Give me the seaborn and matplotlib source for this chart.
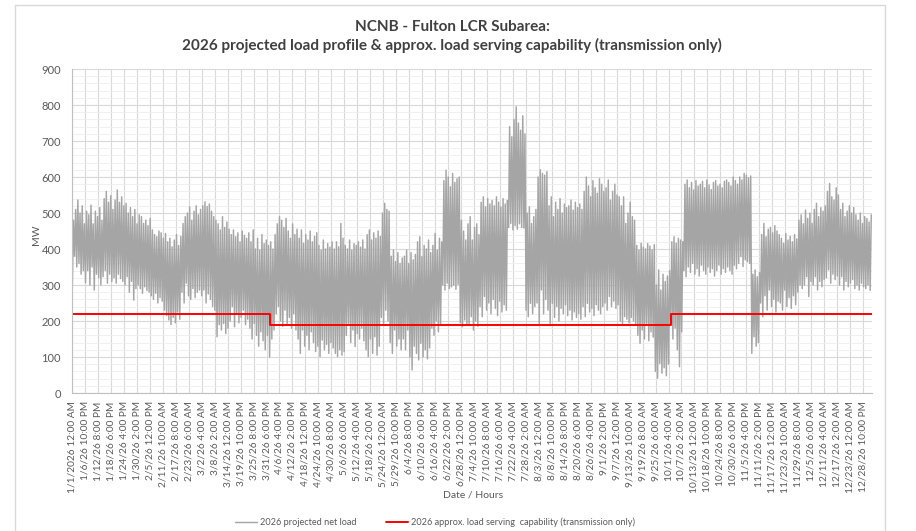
import numpy as np
import pandas as pd
import matplotlib
matplotlib.use('Agg')
import matplotlib.pyplot as plt
import matplotlib.patches as patches
from matplotlib.ticker import MultipleLocator
import seaborn as sns

# === daily trough / peak of the projected net load (MW), month by month ===
low_jan = [300, 380, 350, 360, 330, 340, 306, 340, 300, 350, 286, 330, 320, 300, 323, 340, 305, 330, 310, 320,
           305, 330, 318, 310, 300, 323, 280, 310, 258, 290, 300]
high_jan = [480, 510, 536, 500, 520, 470, 505, 495, 522, 470, 505, 490, 515, 480, 540, 560, 530, 548, 510, 536,
            564, 530, 545, 520, 527, 500, 515, 490, 510, 470, 495]
low_feb = [290, 277, 295, 285, 280, 270, 260, 277, 250, 265, 255, 230, 215, 203, 190, 210, 195, 225, 205,
           280, 250, 305, 270, 260, 290, 265, 280, 286]
high_feb = [490, 471, 480, 465, 485, 453, 440, 434, 450, 445, 430, 443, 420, 430, 406, 425, 440, 410, 435,
            471, 490, 500, 517, 480, 505, 520, 495, 510]
low_mar = [270, 286, 250, 275, 260, 240, 230, 156, 190, 175, 193, 165, 180, 200, 240, 184, 220, 195, 210, 230,
           190, 205, 180, 150, 193, 160, 130, 170, 145, 120, 160]
high_mar = [520, 531, 518, 525, 505, 490, 480, 470, 453, 490, 460, 475, 455, 440, 453, 434, 445, 420, 450, 438,
            430, 445, 420, 453, 400, 430, 397, 440, 415, 425, 410]
low_apr = [100, 150, 175, 220, 240, 200, 185, 230, 190, 210, 180, 220, 175, 150, 110, 175, 130, 160, 120, 170,
           140, 115, 130, 101, 147, 120, 135, 110, 140, 125]
high_apr = [420, 400, 440, 470, 490, 480, 460, 485, 450, 430, 470, 440, 455, 430, 453, 416, 440, 425, 450, 420,
            435, 445, 410, 397, 425, 400, 415, 405, 420, 400]
low_may = [110, 101, 120, 105, 115, 160, 193, 140, 175, 129, 165, 150, 180, 145, 120, 101, 150, 110, 156, 105,
           130, 210, 193, 230, 200, 140, 110, 175, 130, 150, 120]
high_may = [420, 406, 471, 430, 410, 400, 425, 397, 415, 410, 420, 405, 425, 400, 440, 453, 425, 445, 430, 450,
            435, 500, 527, 510, 505, 380, 397, 365, 390, 360, 375]
low_jun = [150, 120, 175, 100, 64, 130, 110, 92, 138, 100, 120, 95, 125, 180, 160, 200, 170, 190,
           300, 286, 305, 290, 295, 300, 288, 302, 195, 184, 203, 190]
high_jun = [380, 397, 360, 390, 370, 385, 420, 434, 379, 410, 400, 425, 390, 410, 443, 397, 430, 420,
            590, 619, 600, 573, 610, 585, 595, 600, 480, 450, 425, 470]
low_jul = [190, 212, 175, 200, 185, 240, 212, 268, 230, 250, 220, 260, 235, 215, 255, 225, 245, 230,
           460, 471, 453, 465, 455, 470, 460, 458, 230, 212, 249, 220, 240]
high_jul = [490, 425, 460, 470, 440, 530, 545, 517, 540, 525, 535, 520, 545, 530, 517, 540, 525, 535,
            740, 712, 760, 795, 750, 730, 770, 720, 500, 517, 471, 490, 510]
low_aug = [250, 193, 286, 220, 260, 230, 193, 249, 210, 240, 200, 235, 220, 245, 215, 230, 203, 225, 210, 220,
           205, 240, 212, 249, 225, 235, 215, 245, 230, 220, 240]
high_aug = [600, 620, 610, 605, 615, 520, 545, 490, 530, 510, 540, 500, 525, 515, 520, 536, 508, 530, 515, 525,
            510, 560, 600, 575, 545, 590, 570, 555, 595, 580, 560]
low_sep = [250, 230, 268, 240, 255, 235, 245, 200, 193, 212, 205, 195, 210, 200, 190, 160, 138, 175, 150, 193,
           145, 170, 155, 60, 41, 82, 55, 70, 48, 80]
high_sep = [570, 592, 536, 560, 580, 550, 545, 520, 545, 471, 500, 530, 490, 480, 410, 397, 416, 405, 400, 415,
            408, 398, 412, 300, 342, 286, 330, 310, 325, 340]
low_oct = [193, 150, 180, 120, 73, 170, 340, 323, 350, 335, 360, 330, 345, 325, 355, 340, 330, 350, 335, 345,
           325, 340, 355, 330, 345, 335, 350, 340, 330, 355, 345]
high_oct = [420, 434, 416, 430, 425, 420, 580, 592, 570, 585, 564, 590, 575, 580, 588, 570, 592, 578, 565, 585,
            590, 575, 580, 570, 588, 592, 585, 575, 600, 590, 580]
low_nov = [360, 379, 351, 370, 365, 360, 110, 156, 130, 140, 250, 212, 270, 230, 286, 240, 260, 225, 255,
           250, 230, 286, 240, 265, 235, 270, 245, 280, 300, 290]
high_nov = [600, 592, 610, 605, 598, 603, 330, 342, 323, 335, 440, 471, 434, 455, 460, 445, 465, 450, 440,
            430, 416, 443, 425, 435, 420, 440, 428, 480, 495, 470]
low_dec = [300, 323, 268, 310, 300, 323, 286, 310, 295, 315, 320, 342, 305, 330, 315, 325,
           300, 323, 286, 310, 295, 305, 315, 290, 300, 286, 305, 295, 290, 300, 285]
high_dec = [508, 485, 500, 471, 510, 527, 490, 515, 505, 520, 560, 582, 545, 536, 570, 550,
            510, 527, 490, 505, 520, 500, 515, 495, 480, 500, 471, 490, 485, 475, 495]

daily_low = (low_jan + low_feb + low_mar + low_apr + low_may + low_jun +
             low_jul + low_aug + low_sep + low_oct + low_nov + low_dec)
daily_high = (high_jan + high_feb + high_mar + high_apr + high_may + high_jun +
              high_jul + high_aug + high_sep + high_oct + high_nov + high_dec)

# hour of day where the trough / peak sits
trough_hour = 4
peak_hour = 16

# === approx. load serving capability (transmission only): step changes ===
cap_hours = [0, 2168, 6558, 8760]
cap_mw = [220, 190, 220, 220]

# === x tick labels (every 142 hours, as in the spreadsheet) ===
tick_step = 142
tick_labels = [
    '1/1/2026 12:00 AM', '1/6/26 10:00 PM', '1/12/26 8:00 PM', '1/18/26 6:00 PM', '1/24/26 4:00 PM',
    '1/30/26 2:00 PM', '2/5/26 12:00 PM', '2/11/26 10:00 AM', '2/17/26 8:00 AM', '2/23/26 6:00 AM',
    '3/2/26 4:00 AM', '3/8/26 2:00 AM', '3/14/26 12:00 AM', '3/19/26 10:00 PM', '3/25/26 8:00 PM',
    '3/31/26 6:00 PM', '4/6/26 4:00 PM', '4/12/26 2:00 PM', '4/18/26 12:00 PM', '4/24/26 10:00 AM',
    '4/30/26 8:00 AM', '5/6/26 6:00 AM', '5/12/26 4:00 AM', '5/18/26 2:00 AM', '5/24/26 12:00 AM',
    '5/29/26 10:00 PM', '6/4/26 8:00 PM', '6/10/26 6:00 PM', '6/16/26 4:00 PM', '6/22/26 2:00 PM',
    '6/28/26 12:00 PM', '7/4/26 10:00 AM', '7/10/26 8:00 AM', '7/16/26 6:00 AM', '7/22/26 4:00 AM',
    '7/28/26 2:00 AM', '8/3/26 12:00 AM', '8/8/26 10:00 PM', '8/14/26 8:00 PM', '8/20/26 6:00 PM',
    '8/26/26 4:00 PM', '9/1/26 2:00 PM', '9/7/26 12:00 PM', '9/13/26 10:00 AM', '9/19/26 8:00 AM',
    '9/25/26 6:00 AM', '10/1/26 4:00 AM', '10/7/26 2:00 AM', '10/13/26 12:00 AM', '10/18/26 10:00 PM',
    '10/24/26 8:00 PM', '10/30/26 6:00 PM', '11/5/26 4:00 PM', '11/11/26 2:00 PM', '11/17/26 12:00 PM',
    '11/23/26 10:00 AM', '11/29/26 8:00 AM', '12/5/26 6:00 AM', '12/11/26 4:00 AM', '12/17/26 2:00 AM',
    '12/23/26 12:00 AM', '12/28/26 10:00 PM']

# build the load frame: trough then peak for each day
load_rows = []
for d, (lo, hi) in enumerate(zip(daily_low, daily_high)):
    load_rows.append((d * 24 + trough_hour, lo))
    load_rows.append((d * 24 + peak_hour, hi))
df_load = pd.DataFrame(load_rows, columns=['hour', 'mw'])
df_cap = pd.DataFrame({'hour': cap_hours, 'mw': cap_mw})

# === plotting ===
sns.set_style('white')
plt.rcParams['font.family'] = ['Lato', 'DejaVu Sans']
txt = '#595959'

fig = plt.figure(figsize=(9.16, 5.31), dpi=100)
ax = fig.add_axes([72 / 916, 1 - 393 / 531, 800 / 916, 324 / 531])

# chart frame
fig.patches.append(patches.Rectangle((15 / 916, -0.02), 870 / 916, 1 - 5 / 531 + 0.02,
                                     transform=fig.transFigure, fill=False,
                                     edgecolor='#d9d9d9', lw=1))

sns.lineplot(data=df_load, x='hour', y='mw', ax=ax, color='#a5a5a5', lw=1.05,
             estimator=None, label='2026 projected net load')
sns.lineplot(data=df_cap, x='hour', y='mw', ax=ax, color='#ff0000', lw=1.4,
             estimator=None, drawstyle='steps-post',
             label='2026 approx. load serving  capability (transmission only)')

ax.set_xlim(0, 8760)
ax.set_ylim(0, 900)
ax.yaxis.set_major_locator(MultipleLocator(100))
ax.yaxis.set_minor_locator(MultipleLocator(20))
ticks = [i * tick_step for i in range(len(tick_labels))]
ax.set_xticks(ticks)
ax.set_xticklabels(tick_labels, rotation=90, fontsize=7.3, color=txt)
ax.tick_params(axis='y', labelsize=8, labelcolor=txt, length=0, pad=8)
ax.tick_params(axis='x', length=4, color='#bfbfbf', pad=2)

ax.grid(True, which='major', color='#d9d9d9', lw=0.8)
ax.grid(True, which='minor', axis='y', color='#eeeeee', lw=0.6)
ax.set_axisbelow(True)
for s in ['top', 'right']:
    ax.spines[s].set_visible(False)
for s in ['left', 'bottom']:
    ax.spines[s].set_color('#bfbfbf')
    ax.spines[s].set_linewidth(0.8)

ax.set_xlabel('')
ax.set_ylabel('')
fig.text(37 / 916, 1 - 235 / 531, 'MW', rotation=90, ha='center', va='center', fontsize=7.5, color=txt)
fig.text(473 / 916, 1 - 495 / 531, 'Date / Hours', ha='center', va='center', fontsize=7.5, color=txt)

fig.text(452 / 916, 1 - 27 / 531, 'NCNB - Fulton LCR Subarea:', ha='center', va='center',
         fontsize=11, fontweight='bold', color='#404040')
fig.text(452 / 916, 1 - 45 / 531,
         '2026 projected load profile & approx. load serving capability (transmission only)',
         ha='center', va='center', fontsize=11, fontweight='bold', color='#404040')

handles, labels = ax.get_legend_handles_labels()
ax.get_legend().remove()
fig.legend(handles, labels, loc='center', bbox_to_anchor=(435 / 916, 1 - 522 / 531), ncol=2,
           frameon=False, fontsize=6.6, labelcolor=txt, handlelength=2.4, columnspacing=3.2,
           handletextpad=0.3)

fig.savefig('out.png', dpi=100)
